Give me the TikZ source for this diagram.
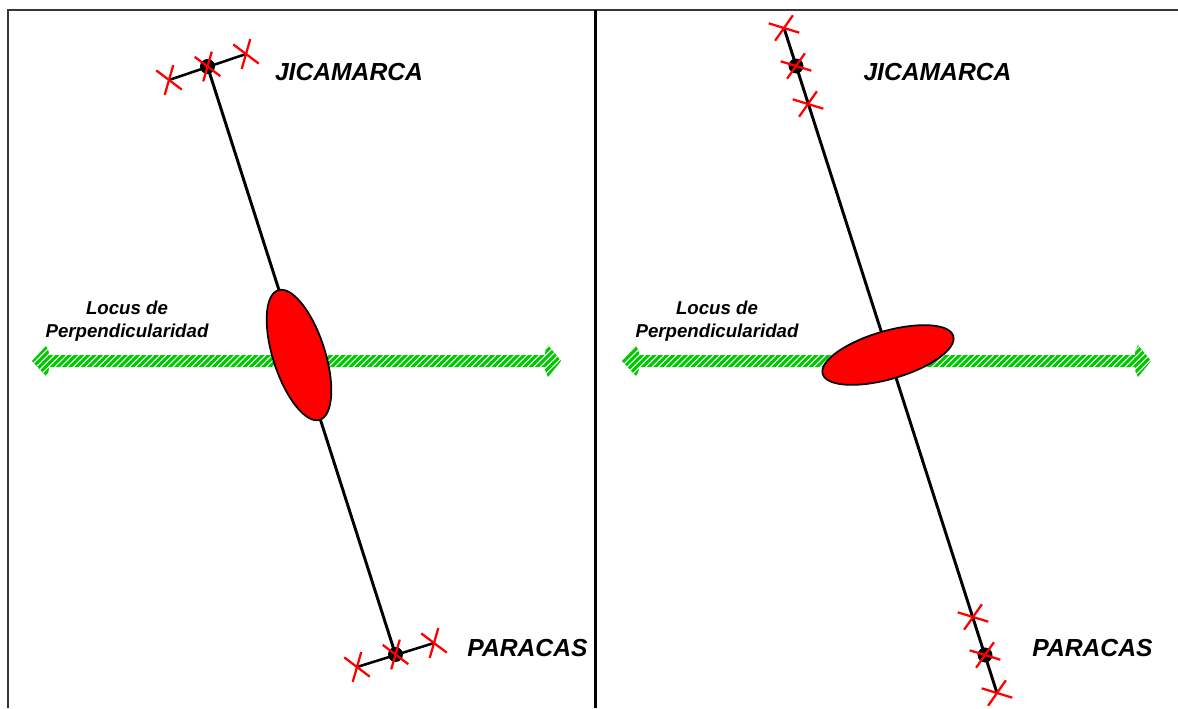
\documentclass[tikz,border=0pt]{standalone}
\usepackage{fontspec}
\setmainfont{Liberation Sans}
\usetikzlibrary{patterns.meta}
\definecolor{hatchgreen}{RGB}{0,200,0}
\definecolor{framegray}{RGB}{55,55,55}
\definecolor{markred}{RGB}{255,0,0}
\tikzset{
  lbl/.style={font=\fontsize{18.5}{22}\selectfont\bfseries\itshape, inner sep=0pt},
  locus/.style={font=\fontsize{14}{17.25}\selectfont\bfseries\itshape, align=center, inner sep=0pt},
  ant/.style={circle, fill=black, inner sep=0pt, minimum size=11pt},
  mainline/.style={line width=2.2pt, black},
  bar/.style={line width=1.9pt, black},
  redline/.style={line width=1.7pt, markred},
  blob/.style={fill=red, draw=black, line width=1.3pt},
  greenarrow/.style={fill=hatchgreen},
  stripes/.style={pattern={Lines[angle=45,distance=3.3pt,line width=0.8pt]}, pattern color=white},
  pics/xl/.style={code={\draw[redline] (37:16) -- (217:16); \draw[redline] (106:15.5) -- (286:15.5);}},
  pics/xr/.style={code={\draw[redline] (17:16) -- (197:16); \draw[redline] (125:15.5) -- (305:15.5);}}
}
\begin{document}
\begin{tikzpicture}[x=0.75pt,y=-0.75pt]
\useasboundingbox (0,0) rectangle (1178,708);
% frame
\draw[framegray, line width=1.5pt] (7.7,708) -- (7.7,10) -- (1178,10);
\draw[black, line width=2pt] (595.5,10) -- (595.5,708);

% green double arrows
\foreach \dx in {0,590}{
  \begin{scope}[xshift=\dx*0.75pt]
    \path[greenarrow] (32,361) -- (46,346) .. controls (49,351) .. (49,355) -- (545,355) .. controls (545,351) .. (548,345) -- (561,361) -- (548,377) .. controls (545,371) .. (545,367) -- (49,367) .. controls (49,371) .. (46,376) -- cycle;
    \path[stripes] (32,361) -- (46,346) .. controls (49,351) .. (49,355) -- (545,355) .. controls (545,351) .. (548,345) -- (561,361) -- (548,377) .. controls (545,371) .. (545,367) -- (49,367) .. controls (49,371) .. (46,376) -- cycle;
  \end{scope}
}

% ---------- left panel ----------
\node[ant] (jl) at (207.5,66.5) {};
\node[ant] (pl) at (395.5,654.5) {};
\coordinate (jl1) at (169,80);
\coordinate (jl2) at (246,54);
\coordinate (pl1) at (357,667);
\coordinate (pl2) at (434,643);
\draw[mainline] (jl.center) -- (pl.center);
\draw[bar] (jl1) -- (jl2);
\draw[bar] (pl1) -- (pl2);
\draw[blob, rotate around={-72.2:(299,355)}] (299,355) ellipse [x radius=68, y radius=26];
\node[ant] at (jl.center) {};
\node[ant] at (pl.center) {};
\pic at (jl1) {xl};
\pic at (jl) {xl};
\pic at (jl2) {xl};
\pic at (pl1) {xl};
\pic at (pl) {xl};
\pic at (pl2) {xl};
\node[lbl] (tjl) at (349,72) {JICAMARCA};
\node[lbl] (tpl) at (527.5,648) {PARACAS};
\node[locus] (locl) at (127,321.5) {Locus de\\Perpendicularidad};

% ---------- right panel ----------
\node[ant] (jr) at (796,66) {};
\node[ant] (pr) at (985,655) {};
\coordinate (jr1) at (784,28);
\coordinate (jr2) at (808,104);
\coordinate (pr1) at (973,617);
\coordinate (pr2) at (997,693);
\draw[mainline] (jr1) -- (pr2);
\draw[blob, rotate around={16.2:(888,355)}] (888,355) ellipse [x radius=68, y radius=24];
\node[ant] at (jr.center) {};
\node[ant] at (pr.center) {};
\pic at (jr1) {xr};
\pic at (jr) {xr};
\pic at (jr2) {xr};
\pic at (pr1) {xr};
\pic at (pr) {xr};
\pic at (pr2) {xr};
\node[lbl] (tjr) at (937.5,72) {JICAMARCA};
\node[lbl] (tpr) at (1092.5,648) {PARACAS};
\node[locus] (locr) at (717,321.5) {Locus de\\Perpendicularidad};
\end{tikzpicture}
\end{document}
